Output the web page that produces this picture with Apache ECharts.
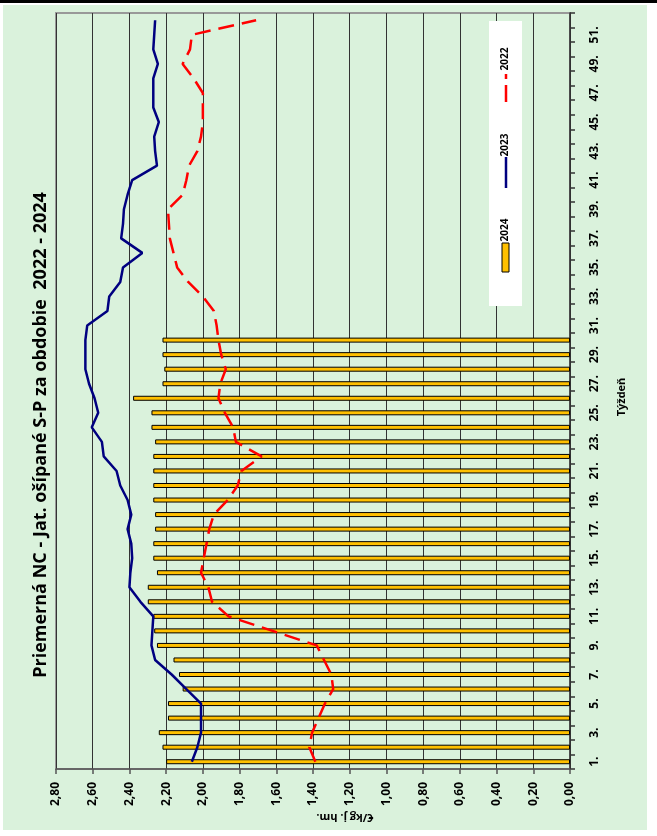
<!DOCTYPE html>
<html>
<head>
<meta charset="utf-8">
<script src="https://cdn.jsdelivr.net/npm/echarts@6/dist/echarts.min.js"></script>
<style>
html,body{margin:0;padding:0;background:#fff;overflow:hidden;}
#topline{position:absolute;left:0;top:0;width:657px;height:3px;background:#000;}
#bg{position:absolute;left:3px;top:5px;width:644px;height:825px;background:#DAF2DC;}
#chart{position:absolute;left:0;top:0;width:657px;height:836px;}
</style>
</head>
<body>
<div id="topline"></div>
<div id="bg"></div>
<div id="chart"></div>
<script>
const weeks = ['1.','2.','3.','4.','5.','6.','7.','8.','9.','10.','11.','12.','13.','14.','15.','16.','17.','18.','19.','20.','21.','22.','23.','24.','25.','26.','27.','28.','29.','30.','31.','32.','33.','34.','35.','36.','37.','38.','39.','40.','41.','42.','43.','44.','45.','46.','47.','48.','49.','50.','51.','52.'];

const s2024 = [2.20,2.22,2.24,2.19,2.19,2.11,2.13,2.16,2.25,2.265,2.27,2.30,2.30,2.25,2.27,2.27,2.26,2.26,2.27,2.27,2.27,2.27,2.26,2.28,2.28,2.38,2.22,2.21,2.22,2.22];

const s2023 = [2.06,2.03,2.01,2.01,2.01,2.09,2.17,2.26,2.28,2.275,2.27,2.34,2.40,2.395,2.385,2.39,2.41,2.39,2.41,2.45,2.47,2.54,2.55,2.605,2.57,2.59,2.62,2.64,2.64,2.64,2.63,2.52,2.51,2.45,2.435,2.33,2.445,2.435,2.43,2.41,2.385,2.25,2.26,2.265,2.24,2.27,2.27,2.27,2.245,2.27,2.265,2.26];

const s2022 = [1.387,1.42,1.405,1.37,1.335,1.29,1.30,1.34,1.38,1.62,1.86,1.95,1.97,2.01,1.995,1.98,1.965,1.94,1.865,1.81,1.79,1.68,1.82,1.835,1.88,1.915,1.905,1.875,1.90,1.915,1.925,1.94,2.00,2.08,2.14,2.16,2.18,2.185,2.19,2.11,2.09,2.075,2.03,2.01,2.0,2.0,2.0,2.05,2.11,2.07,2.06,1.71];

const seriesNames = ['2024','2023','2022'];
const titleText = 'Priemerná NC - Jat. ošípané S-P za obdobie  2022 - 2024';
const valueAxisName = '€/kg j. hm.';
const catAxisName = 'Týždeň';

const FONT = '"Open Sans", sans-serif';

const chart = echarts.init(document.getElementById('chart'), null, {renderer:'canvas'});
chart.setOption({
  animation:false,
  backgroundColor:'transparent',
  textStyle:{fontFamily:FONT},
  grid:{left:56,right:87,top:13,bottom:67,show:true,borderColor:'#999',borderWidth:2,backgroundColor:'transparent'},
  xAxis:{
    type:'value', inverse:true, min:0, max:2.8, interval:0.2, position:'bottom',
    axisLine:{show:true,lineStyle:{color:'#555',width:1.5}},
    axisTick:{show:true,length:5,lineStyle:{color:'#555',width:1.5}},
    axisLabel:{rotate:90,margin:13,fontSize:12,fontWeight:'bold',color:'#000',fontFamily:FONT,
      formatter:function(v){return v.toFixed(2).replace('.',',');}},
    splitLine:{show:true,lineStyle:{color:'#333',width:1}}
  },
  yAxis:{
    type:'category', data:weeks, position:'right', boundaryGap:true,
    axisLine:{show:true,lineStyle:{color:'#333',width:1.5}},
    axisTick:{show:true,interval:0,length:5,lineStyle:{color:'#333',width:1.5}},
    axisLabel:{interval:1,rotate:90,margin:19,fontSize:12,fontWeight:'bold',color:'#000',fontFamily:FONT},
    splitLine:{show:false}
  },
  series:[
    {name:seriesNames[0],type:'bar',data:s2024,barWidth:5,
     itemStyle:{color:'#FFC000',borderColor:'#000',borderWidth:1},z:2},
    {name:seriesNames[1],type:'line',data:s2023,symbol:'none',smooth:false,
     lineStyle:{color:'#000080',width:2.5},z:3},
    {name:seriesNames[2],type:'line',data:s2022,symbol:'none',smooth:false,
     lineStyle:{color:'#FF0000',width:2.5,type:[16,8]},z:4}
  ],
  graphic:[
    {type:'text',x:41,y:435,rotation:Math.PI/2,z:10,
     style:{text:titleText,fontSize:18,fontWeight:'bold',fill:'#000',fontFamily:FONT,align:'center',verticalAlign:'middle'}},
    {type:'text',x:622,y:397,rotation:Math.PI/2,z:10,
     style:{text:catAxisName,fontSize:11,fontWeight:'bold',fill:'#000',fontFamily:FONT,align:'center',verticalAlign:'middle'}},
    {type:'text',x:345,y:817,rotation:Math.PI,z:10,
     style:{text:valueAxisName,fontSize:11,fontWeight:'bold',fill:'#000',fontFamily:FONT,align:'center',verticalAlign:'middle'}},
    {type:'rect',shape:{x:489,y:21,width:33,height:285},style:{fill:'#fff'},z:5},
    {type:'text',x:505,y:59,rotation:Math.PI/2,z:10,
     style:{text:seriesNames[2],fontSize:10,fontWeight:'bold',fill:'#000',fontFamily:FONT,align:'center',verticalAlign:'middle'}},
    {type:'line',shape:{x1:506,y1:102,x2:506,y2:74},style:{stroke:'#FF0000',lineWidth:2.5,lineDash:[17,6]},z:10},
    {type:'text',x:505,y:145,rotation:Math.PI/2,z:10,
     style:{text:seriesNames[1],fontSize:10,fontWeight:'bold',fill:'#000',fontFamily:FONT,align:'center',verticalAlign:'middle'}},
    {type:'line',shape:{x1:506,y1:188,x2:506,y2:157},style:{stroke:'#000080',lineWidth:2.5},z:10},
    {type:'text',x:505,y:230,rotation:Math.PI/2,z:10,
     style:{text:seriesNames[0],fontSize:10,fontWeight:'bold',fill:'#000',fontFamily:FONT,align:'center',verticalAlign:'middle'}},
    {type:'rect',shape:{x:502,y:243,width:7,height:29},style:{fill:'#FFC000',stroke:'#000',lineWidth:1},z:10}
  ]
});
</script>
</body>
</html>
